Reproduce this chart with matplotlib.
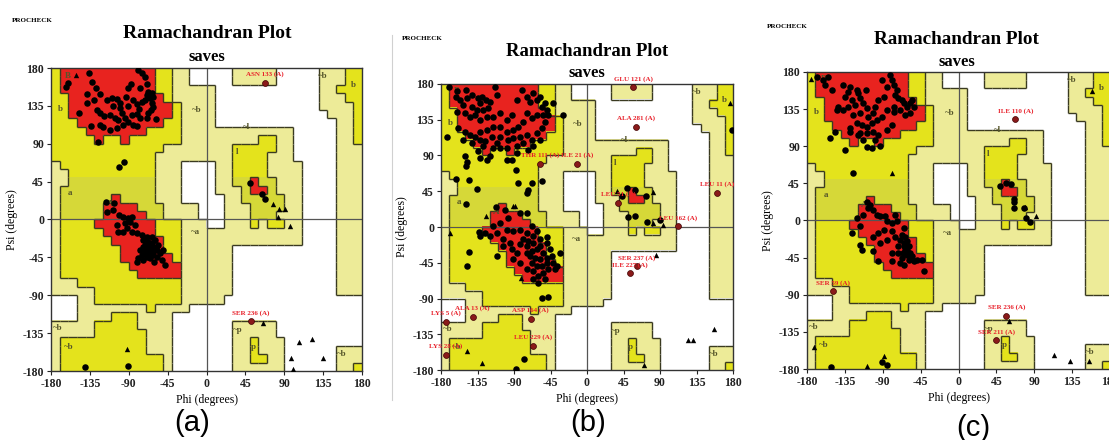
import numpy as np
import matplotlib.pyplot as plt
from matplotlib.colors import ListedColormap
from matplotlib.collections import LineCollection
from matplotlib.lines import Line2D

plt.rcParams['font.family'] = ['Liberation Serif', 'DejaVu Serif']
plt.rcParams['font.weight'] = 'bold'
plt.rcParams['axes.unicode_minus'] = False

W, H = 1109, 440

# PROCHECK region map, 10 degree cells: rows psi 180 -> -180, cols phi -180 -> 180
# '.' disallowed, 'P' generously allowed, 'Y' allowed, 'R' core
region_rows = [
    "YRRRRRRRRRRRYYPP.....PPPPP.....PPPYY",
    "YRRRRRRRRRRRYYPP.....PPPPP.....PPPYY",
    "YRRRRRRRRRRRYYPPPPP............PPYYY",
    "YYRRRRRRRRRRRYPPPPP............PPPYY",
    "YYRRRRRRRRRRRRYPPPP............PPPPY",
    "YYRRRRRRRRRRRRYPPPP.............PPPY",
    "YYYRRRRRRRRRRYYPPPP..............PPY",
    "YYYYRRRRRRRYYYYPPPPPPPPPPPPP.....PPY",
    "YYYYYRYYRYYYYYYPPPPPPPPPYYPP.....PPY",
    "YYYYYYYYYYYYYPPPPPPPPYYYYYPP.....PPP",
    "YYYYYYYYYYYYPPPPPPPPPYYYYPPP.....PPP",
    "PYYYYYYYYYYYPPP....PPYYYYPPPP....PPP",
    "PPYYYYYYYYYYPPP....PPYYYYPPPP....PPP",
    "PPYYYYYYYYYYPPP....PPYYRYYPPP....PPP",
    "PYYYYYYYYYYYPPP....PPPYRRYPPP....PPP",
    "PYYYYYYRYYYYPPP.....PPYYYYYPP....PPP",
    "PYYYYYRRRRYYYPPPP...PPPYYYYPP....PPP",
    "PYYYYYRRRRRYYPPPP...PPPYYYPPP....PPP",
    "PYYYYRRRRRRRYYYPPP..PPPYPYYPP....PPP",
    "PYYYYYRRRRRRYYYPPPPPPPPPPPPPP....PPP",
    "PYYYYYYRRRRRRYYPPPPPPPPPPPPPP....PPP",
    "PYYYYYYYRRRRRYYPPPPPP............PPP",
    "PYYYYYYYRRRRRRYPPPPPP............PPP",
    "PYYYYYYYYRRRRRRPPPPPP............PPP",
    "PYYYYYYYYYRRRRRPPPPPP............PPP",
    "PPPYYYYYYYYYYYYPPPPPP............PPP",
    "PPPPPYYYYYYYYYYPPPPPP............PPP",
    "...PPYYYYYYYYYYPPPPP................",
    "...PPPPPPPPYPPPP....................",
    "...PPPPYYYPPPP......................",
    "PPPPPYYYYYPPPP.......PPPPP..........",
    "PPPPPYYYYYYPPP.......PPPPP..........",
    "PYYYYYYYYYYPPP.......PPYPPP.........",
    "PYYYYYYYYYYPPP.......PPYPPP......PPP",
    "PYYYYYYYYYYYYP.......PPYYPP......PPP",
    "PYYYYYYYYYYYYP.......PPPPPP......PPY",
]
tint_rows = range(13, 18)
region_colors = ['white', '#EDEB98', '#E4E31C', '#E8231F', '#D6D838']
ticks = [-180, -135, -90, -45, 0, 45, 90, 135, 180]

region_marks = [("B", -160, 171), ("b", -169, 131), ("A", -112, 19), ("a", -158, 31),
                ("~b", -11, 130), ("~a", -13, -15), ("~l", 46, 110), ("l", 35, 80),
                ("~b", 135, 170), ("b", 170, 160), ("~b", -172, -129), ("~b", -160, -151),
                ("~p", 36, -131), ("p", 54, -151), ("~b", 156, -160)]

# panel (a)
a_core = [
    (-135.6, 174.5), (-132.9, 163.8), (-127.9, 155.8), (-137.9, 149.1), (-123.3, 148.7),
    (-130.2, 142), (-137.9, 138), (-147.2, 127), (-127.1, 130), (-123.3, 126), (-118.6, 123),
    (-134.1, 111), (-123.3, 112), (-119.4, 109.5), (-111.7, 106.3), (-104, 108.3),
    (-115.5, 142), (-109.8, 144), (-104, 142.8), (-107.8, 135), (-100.1, 132), (-111.7, 124),
    (-106, 120), (-102, 118), (-98.2, 126), (-94.3, 120), (-96.3, 112), (-90.5, 116),
    (-86.6, 124), (-84.7, 112), (-90.5, 155.8), (-87.8, 160.6), (-93.2, 145.9), (-80.8, 137.2),
    (-77.7, 130.9), (-80.8, 125.4), (-77, 120), (-80.8, 111), (-75, 140), (-71.2, 142),
    (-69.3, 147.9), (-67.3, 152), (-63.5, 150), (-61.5, 146), (-65.4, 144), (-63.5, 138),
    (-61.5, 134), (-64.6, 130), (-67.3, 126), (-69.3, 120), (-58.4, 119), (-78.9, 177.6),
    (-75, 173.7), (-71.2, 169.7), (-69.3, 161), (-77, 156), (-84.7, 142), (-90.5, 135),
    (-100.1, 138), (-125.2, 91.7), (-160, 162), (-162.6, 157), (-101.3, 62.7), (-95.1, 68),
    (-116.3, 21.2), (-106.7, 20), (-115.5, 8.5), (-107.8, 11.3), (-100.9, 5.4), (-96.3, 3.4),
    (-90.5, 1.4), (-86.6, 2.6), (-94.3, -4.5), (-88.5, -2.5), (-104, -6.5), (-102, -14.4),
    (-96.3, -14.4), (-92.4, -10.5), (-82.8, -6.5), (-80.8, -16.4), (-86.6, -14.4), (-75, -18.4),
    (-73.1, -24.3), (-71.2, -30.3), (-69.3, -34.2), (-67.3, -36.2), (-65.4, -40.2),
    (-63.5, -28.3), (-61.5, -32.2), (-59.6, -24.3), (-57.7, -36.2), (-55.7, -30.3),
    (-69.3, -44.1), (-65.4, -46.1), (-61.5, -42.1), (-77, -36.2), (-75, -42.1), (-80.8, -50),
    (-78.9, -46.1), (-69.3, -20.4), (-53.8, -40.2), (-51.9, -48.1), (-48, -54), (-49.9, -36.2),
    (-73.1, -48.1), (-67.3, -26.3), (-63.5, -20.4), (-57.7, -44.1), (-60.8, -50),
    (-71.2, -38.2), (-67.3, -32.2), (-63.5, -36.2), (-65.4, -30.3), (-69.3, -40.2),
    (-61.5, -38.2), (-73.1, -32.2), (-59.6, -34.2),
    (50.4, 43.7), (63.9, 30.7), (67.7, 24.7), (-91.2, -173.7), (-140.6, -175.6),
]
a_gly = [(-151, 171.7), (97.5, -165), (107, -145), (122.5, -142), (135, -164), (100.5, -178),
         (65.8, -122.5), (77.4, 18.8), (83.9, 12.9), (90.9, 12.9), (82.4, 3), (96.6, -7.3),
         (-92.4, -153.5)]
a_flag = [("ASN 133 (A)", 67.7, 162.5), ("SER 236 (A)", 51, -121)]

# panel (b)
b_core = [
    (-169.7, 175.8), (-159.8, 171.6), (-149.2, 172.5), (-161.5, 164.1), (-156.6, 159.9),
    (-147.5, 162), (-142.2, 166.2), (-134, 162), (-129.8, 164.1), (-131.9, 155.7),
    (-124.5, 159.9), (-119.6, 157.8), (-113.4, 176.7), (-110.5, 166.2), (-121.6, 149.5),
    (-127.8, 147.4), (-136, 147.4), (-142.2, 151.6), (-152.4, 153.7), (-159.8, 145.3),
    (-150.4, 143.2), (-144.2, 139), (-138.1, 141.1), (-131.9, 134.8), (-123.7, 139),
    (-115.5, 139), (-107.2, 143.2), (-99, 134.8), (-92.9, 141.1), (-86.7, 159.9),
    (-80.5, 172.5), (-74.4, 164.1), (-70.3, 157.8), (-66.1, 168.3), (-62, 159.9),
    (-55.9, 151.6), (-51.8, 155.7), (-49.7, 147.4), (-53.8, 141.1), (-62, 141.1),
    (-68.2, 136.9), (-74.4, 143.2), (-78.5, 132.7), (-84.6, 126.5), (-90.8, 122.3),
    (-99, 120.2), (-107.2, 126.5), (-115.5, 126.5), (-123.7, 122.3), (-131.9, 120.2),
    (-138.1, 113.9), (-144.2, 116), (-150.4, 120.2), (-158.6, 124.4), (-152.4, 109.7),
    (-142.2, 105.6), (-131.9, 109.7), (-125.7, 107.7), (-117.5, 113.9), (-111.3, 105.6),
    (-107.2, 113.9), (-97, 109.7), (-90.8, 111.8), (-82.6, 113.9), (-74.4, 116),
    (-68.2, 109.7), (-62, 118.1), (-55.9, 124.4), (-51.8, 132.7), (-47.7, 141.1),
    (-57.9, 109.7), (-66.1, 101.4), (-72.3, 97.2), (-78.5, 105.6), (-86.7, 101.4),
    (-99, 99.3), (-107.2, 99.3), (-115.5, 99.3), (-127.8, 101.4), (-134, 95.1),
    (-131.9, 86.7), (-119.6, 88.8), (-123.7, 84.6), (-99, 84.6), (-92.9, 84.6), (-86.7, 93),
    (-173, 113.9), (-29.2, 141.1), (-41.5, 155.7), (-57.9, 164.1),
    (-150.4, 89.7), (-147.5, 81.3), (-149.2, 76.3), (-161.5, 60.4), (-145.5, 59.6),
    (-136, 47.9), (-87.5, 71.3), (-85.5, 55.4), (-74.4, 42.8), (-72.3, 47), (-68.2, 55.4),
    (-55.9, 57.5),
    (-112.2, 25.3), (-101.1, 21.9), (-82.6, 17.7), (-74.4, 17.7), (-97, 11.4),
    (-107.2, 5.2), (-115.5, 1), (-99, -3.2), (-90.8, -5.3), (-82.6, -3.2), (-74.4, -7.4),
    (-66.1, -11.6), (-68.2, 1), (-62, -5.3), (-78.5, -15.7), (-82.6, -22), (-74.4, -24.1),
    (-66.1, -19.9), (-62, -28.3), (-57.9, -24.1), (-53.8, -32.5), (-49.7, -19.9),
    (-45.6, -28.3), (-43.5, -36.7), (-49.7, -45), (-57.9, -40.8), (-62, -49.2), (-68.2, -45),
    (-70.3, -36.7), (-74.4, -32.5), (-86.7, -32.5), (-90.8, -40.8), (-82.6, -45),
    (-74.4, -53.4), (-66.1, -55.5), (-60, -61.7), (-53.8, -57.6), (-47.7, -53.4),
    (-41.5, -45), (-37.4, -49.2), (-111.4, -36.7), (-119.6, -11.6), (-111.4, -7.4),
    (-103.1, -15.7), (-94.9, -19.9), (-66.1, -65.9), (-60, -70.1), (-51.8, -65.9),
    (-55.9, -49.2), (-64.1, -38.7), (-68.2, -30.4), (-72.3, -17.8), (-49.7, -38.7),
    (-39.4, -53.4), (-57.9, -15.7), (-49.7, -12.4), (-103.1, -24.1), (-92.9, -28.3),
    (-125.7, -7.4),
    (-149.2, 29.4), (-145.1, -31.2), (-147.5, -49.2), (-132.7, -6.1), (-131.9, -11.6),
    (-55.9, -88.9), (-47.7, -87.7), (-33.3, -32.5), (-77.7, -166.3), (-87.5, -178.5),
    (50.2, 12.7), (59.2, 14.4), (73.6, 6.4), (90, 9.3), (178.5, 122.3), (48.9, 49.1),
    (59.2, 47), (72.8, 39.5), (42.8, 38.7),
]
b_gly = [(-168.9, -7.4), (-124.5, 14.4), (-90.8, 26.9), (-88.7, 26.1), (-81.8, -64.7),
         (-147.5, -155.8), (-129.8, -171.3), (81, 5.2), (93.3, 3.1), (85.1, -35.8),
         (70.3, -173.4), (156.6, -127.8), (125, -142.5), (131.1, -142.5), (37.4, 44.9),
         (81.8, 43.7), (176.4, 156.6)]
b_flag = [("GLU 121 (A)", 57.2, 175.8), ("ALA 281 (A)", 60.4, 126.5),
          ("THR 111 (A)", -57.9, 79.6), ("ILE 21 (A)", -12.7, 79.6),
          ("LEU 11 (A)", 159.9, 42.8), ("LEU 51 (A)", 38.7, 30.3),
          ("LEU 162 (A)", 111.8, 1), ("SER 237 (A)", 61.3, -49.2),
          ("ILE 227 (A)", 53, -58.4), ("LYS 5 (A)", -173.8, -119.5),
          ("ALA 13 (A)", -140.9, -113.2), ("ASP 164 (A)", -69.4, -115.3),
          ("LEU 229 (A)", -67, -149.6), ("LYS 28 (A)", -173.8, -160.9)]

# panel (c)
c_core = [
    (-167.7, 173.5), (-158.5, 164.3), (-160.5, 170.3), (-154.6, 173.5), (-150.6, 158.2),
    (-136.7, 164.3), (-128.8, 161.4), (-130.8, 156.2), (-120.9, 158.2), (-118.9, 154.2),
    (-109.8, 158.2), (-126.8, 146.1), (-116.9, 148.1), (-112.9, 142.1), (-134.7, 150.1),
    (-142.7, 138), (-136.7, 134), (-130.8, 138), (-122.8, 140), (-124.8, 127.9),
    (-116.9, 130), (-108.9, 136), (-107, 125.9), (-101, 130), (-99, 138), (-95.1, 146.1),
    (-89.1, 150.1), (-85.2, 162.2), (-91.1, 170.3), (-81.2, 176.4), (-79.2, 170.3),
    (-77.2, 164.3), (-73.2, 158.2), (-75.2, 152.2), (-71.3, 148.1), (-67.3, 146.1),
    (-65.3, 142.1), (-61.4, 138), (-57.4, 142.1), (-55.4, 146.1), (-53.4, 138),
    (-57.4, 130), (-63.3, 127.9), (-69.3, 134), (-77.2, 132), (-85.2, 134), (-91.1, 125.9),
    (-97.1, 121.9), (-103, 117.8), (-109, 113.8), (-114.9, 115.8), (-120.9, 117.8),
    (-128.8, 111.8), (-116.9, 105.7), (-109, 105.7), (-101, 107.8), (-95.1, 103.7),
    (-99, 97.7), (-112.9, 97.7), (-118.9, 103.7), (-85.2, 109.8), (-79.2, 115.8),
    (-77.2, 138), (-152.6, 99.7), (-146.6, 107.8), (-134.7, 85.6), (-128.8, 107.8),
    (-103, 87.6), (-93.1, 90.4), (-109, 89.6), (-144.7, 134), (-125.6, 58),
    (-108.9, 23), (-105, 19), (-107, 15), (-101, 12.9), (-120.1, 2.8), (-112.9, 6.9),
    (-97.1, 6.9), (-93.1, 4.9), (-87.1, 4.9), (-85.2, -1.2), (-79.2, -3.2), (-75.2, 6.9),
    (-73.2, -1.2), (-116.9, -7.2), (-116.9, -29.4), (-114.9, -35.5), (-101, -19.4),
    (-95.1, -15.3), (-89.1, -11.3), (-85.2, -23.4), (-79.2, -13.3), (-93.1, -27.4),
    (-101, -37.5), (-95.1, -49.6), (-79.2, -39.5), (-79.2, -49.6), (-75.2, -19.4),
    (-71.3, -31.5), (-69.3, -23.4), (-67.3, -17.3), (-65.3, -27.4), (-63.3, -35.5),
    (-61.4, -41.6), (-59.4, -47.6), (-57.4, -39.5), (-67.3, -45.6), (-63.3, -19.4),
    (-53.4, -49.6), (-49.5, -47.6), (-43.5, -47.6), (-41.5, -61.7), (-126.8, -15.3),
    (-69.3, -51.6), (-71.3, -39.5), (-59.4, -31.5), (-65.3, -53.7), (-55.4, -43.6),
    (-61.4, -25.4), (-65.3, -9.3), (-64.5, -31.5), (-62.1, -37.5), (-66.1, -39.5),
    (-60.6, -35.5),
    (-151.4, -177.6), (-91.1, -171.9), (-85.2, -175.6), (65.6, 23), (65.6, 15), (77.5, 15),
    (80.7, 2.8), (84.6, -2.4), (49.7, 42), (55.9, 45.2), (61.8, 44.4), (65.6, 25.8),
]
c_gly = [(-175.6, 171.5), (-79.2, 58), (59.6, -122.3), (-171.2, -153.8), (-109, -176),
         (-88.3, -164.7), (113.2, -162.6), (133, -170.7), (154.8, -169.9), (79.5, 16.2),
         (92.5, 5.7), (159.2, 157.4)]
c_flag = [("ILE 110 (A)", 67.6, 122.7), ("SER 59 (A)", -149.4, -85.9),
          ("SER 236 (A)", 56.9, -115.4), ("SER 211 (A)", 45, -145.3)]

# layout in pixels: axes box (left, top, right, bottom), title centre x, title y, saves y,
# PROCHECK x/y, panel label centre x/y
panels = [
    dict(core=a_core, gly=a_gly, flag=a_flag, box=(51, 68, 362, 371), tx=207, ty=33, sy=57,
         px=12, py=20, lab="(a)", lx=192, ly=423, tsize=14),
    dict(core=b_core, gly=b_gly, flag=b_flag, box=(441, 84, 733, 370), tx=587, ty=52, sy=73,
         px=402, py=39, lab="(b)", lx=588, ly=423, tsize=13.5),
    dict(core=c_core, gly=c_gly, flag=c_flag, box=(807, 72, 1110, 369), tx=957, ty=40, sy=62,
         px=767, py=27, lab="(c)", lx=973, ly=428, tsize=13.8),
]

codes = {'.': 0, 'P': 1, 'Y': 2, 'R': 3}
grid = np.array([[codes[ch] for ch in row] for row in region_rows])
shade = grid.copy()
for r in tint_rows:
    shade[r][grid[r] == 2] = 4

segs = []
for i in range(36):
    for j in range(36):
        top, left = 180 - 10 * i, -180 + 10 * j
        if j < 35 and grid[i, j] != grid[i, j + 1]:
            segs.append([(left + 10, top - 10), (left + 10, top)])
        if i < 35 and grid[i, j] != grid[i + 1, j]:
            segs.append([(left, top - 10), (left + 10, top - 10)])

fig = plt.figure(figsize=(W / 100, H / 100), dpi=100)
fig.add_artist(Line2D([392 / W, 392 / W], [1 - 35 / H, 1 - 400 / H], color='#d0d0d0', lw=0.8))

for p in panels:
    l, t, r, b = p['box']
    ax = fig.add_axes([l / W, 1 - b / H, (r - l) / W, (b - t) / H])
    ax.imshow(shade, cmap=ListedColormap(region_colors), vmin=-0.5, vmax=4.5,
              extent=(-180, 180, -180, 180), origin='upper', interpolation='nearest',
              aspect='auto', zorder=0)
    ax.add_collection(LineCollection(segs, colors='#3a3a20', linewidths=1.0, zorder=1))
    ax.axhline(0, color='#555555', lw=0.9, zorder=2)
    ax.axvline(0, color='#555555', lw=0.9, zorder=2)
    for txt, x, y in region_marks:
        ax.text(x, y, txt, fontsize=6.5, color='#55552a', ha='center', va='center', zorder=2)

    core = np.array(p['core'])
    gly = np.array(p['gly'])
    ax.scatter(core[:, 0], core[:, 1], s=22, c='black', marker='o', linewidths=0, zorder=4)
    ax.scatter(gly[:, 0], gly[:, 1], s=15, c='black', marker='^', linewidths=0, zorder=4)
    for name, x, y in p['flag']:
        ax.scatter([x], [y], s=18, c='#8a1a1a', edgecolors='#400000', linewidths=0.5,
                   marker='o', zorder=5, clip_on=False)
        ax.annotate(name, (x, y), xytext=(0, 4), textcoords='offset points', ha='center',
                    va='bottom', fontsize=5, color='#e8202a', zorder=6, annotation_clip=False)

    ax.set_xlim(-180, 180)
    ax.set_ylim(-180, 180)
    ax.set_xticks(ticks)
    ax.set_yticks(ticks)
    ax.tick_params(direction='out', length=3, width=0.8, labelsize=8.5, pad=2, colors='#222222')
    for s in ax.spines.values():
        s.set_color('#333333')
        s.set_linewidth(1.0)
    ax.set_xlabel('Phi (degrees)', fontsize=8.5, labelpad=3)
    ax.set_ylabel('Psi (degrees)', fontsize=8.5, labelpad=3)

    fig.text(p['px'] / W, 1 - p['py'] / H, 'PROCHECK', fontsize=5, ha='left', va='center')
    fig.text(p['tx'] / W, 1 - p['ty'] / H, 'Ramachandran Plot', fontsize=p['tsize'],
             ha='center', va='center')
    fig.text(p['tx'] / W, 1 - p['sy'] / H, 'saves', fontsize=12, ha='center', va='center')
    fig.text(p['lx'] / W, 1 - p['ly'] / H, p['lab'], fontsize=21, fontweight='normal',
             family='Liberation Sans', ha='center', va='center')

fig.savefig('out.png', dpi=100)
